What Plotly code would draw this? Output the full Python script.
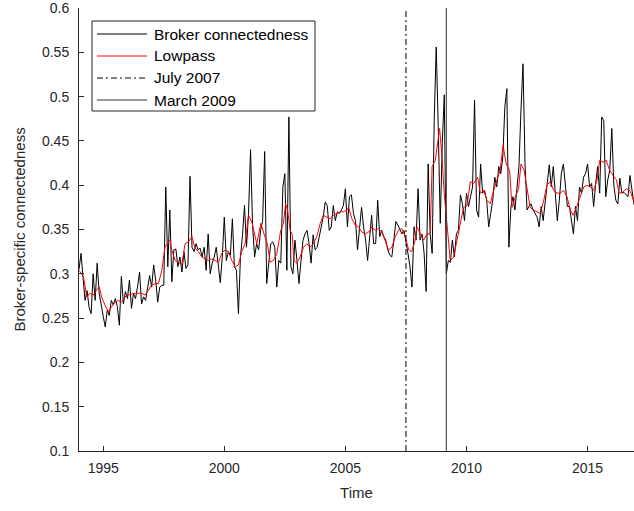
import numpy as np
import plotly.graph_objects as go

# Monthly broker-specific connectedness, Jan 1994 - Dec 2016 (one row per year)
broker = [
    0.305, 0.323, 0.296, 0.270, 0.281, 0.262, 0.255, 0.300, 0.270, 0.312, 0.278, 0.263,  # 1994
    0.252, 0.240, 0.259, 0.253, 0.270, 0.265, 0.272, 0.263, 0.242, 0.297, 0.266, 0.280,  # 1995
    0.272, 0.293, 0.261, 0.278, 0.272, 0.285, 0.302, 0.266, 0.274, 0.270, 0.284, 0.298,  # 1996
    0.285, 0.310, 0.293, 0.268, 0.285, 0.287, 0.287, 0.398, 0.308, 0.372, 0.291, 0.327,  # 1997
    0.328, 0.308, 0.319, 0.302, 0.325, 0.306, 0.310, 0.410, 0.330, 0.325, 0.334, 0.327,  # 1998
    0.329, 0.319, 0.330, 0.304, 0.345, 0.300, 0.312, 0.319, 0.330, 0.313, 0.290, 0.319,  # 1999
    0.364, 0.315, 0.325, 0.321, 0.362, 0.308, 0.304, 0.255, 0.319, 0.343, 0.377, 0.330,  # 2000
    0.368, 0.440, 0.355, 0.319, 0.334, 0.327, 0.349, 0.360, 0.438, 0.289, 0.315, 0.334,  # 2001
    0.336, 0.330, 0.285, 0.315, 0.312, 0.398, 0.413, 0.304, 0.477, 0.308, 0.300, 0.338,  # 2002
    0.315, 0.289, 0.315, 0.338, 0.345, 0.349, 0.334, 0.312, 0.344, 0.327, 0.330, 0.342,  # 2003
    0.353, 0.364, 0.381, 0.377, 0.349, 0.353, 0.377, 0.360, 0.370, 0.368, 0.372, 0.377,  # 2004
    0.396, 0.353, 0.387, 0.389, 0.368, 0.360, 0.327, 0.353, 0.375, 0.353, 0.338, 0.315,  # 2005
    0.338, 0.366, 0.334, 0.334, 0.383, 0.342, 0.349, 0.342, 0.338, 0.327, 0.321, 0.319,  # 2006
    0.338, 0.359, 0.355, 0.349, 0.345, 0.349, 0.338, 0.323, 0.308, 0.285, 0.353, 0.338,  # 2007
    0.396, 0.338, 0.345, 0.323, 0.280, 0.424, 0.345, 0.323, 0.473, 0.556, 0.466, 0.357,  # 2008
    0.447, 0.502, 0.300, 0.315, 0.313, 0.338, 0.319, 0.345, 0.349, 0.389, 0.379, 0.360,  # 2009
    0.391, 0.376, 0.387, 0.398, 0.496, 0.372, 0.364, 0.424, 0.391, 0.394, 0.383, 0.353,  # 2010
    0.368, 0.383, 0.409, 0.398, 0.421, 0.413, 0.432, 0.488, 0.509, 0.330, 0.375, 0.387,  # 2011
    0.372, 0.394, 0.421, 0.485, 0.537, 0.424, 0.372, 0.376, 0.379, 0.372, 0.368, 0.364,  # 2012
    0.353, 0.376, 0.360, 0.383, 0.398, 0.423, 0.398, 0.421, 0.391, 0.360, 0.383, 0.413,  # 2013
    0.424, 0.398, 0.376, 0.376, 0.360, 0.345, 0.376, 0.360, 0.398, 0.391, 0.409, 0.413,  # 2014
    0.424, 0.398, 0.402, 0.376, 0.402, 0.421, 0.391, 0.477, 0.473, 0.387, 0.406, 0.417,  # 2015
    0.464, 0.400, 0.383, 0.379, 0.408, 0.391, 0.392, 0.389, 0.387, 0.411, 0.394, 0.378,  # 2016
]
start_year = 1994
months = np.arange(len(broker))
broker_t = start_year + months / 12.0

# Low-pass filtered series (decimal year, value)
lowpass_t = [
    1994.00, 1994.18, 1994.32, 1994.45, 1994.59, 1994.73, 1994.84, 1994.93,
    1995.07, 1995.21, 1995.35, 1995.49, 1995.63, 1995.76, 1995.90,
    1996.04, 1996.18, 1996.32, 1996.45, 1996.59, 1996.73, 1996.87,
    1997.00, 1997.14, 1997.28, 1997.42, 1997.55, 1997.69, 1997.76, 1997.83, 1997.97,
    1998.11, 1998.24, 1998.38, 1998.52, 1998.66, 1998.79, 1998.93,
    1999.07, 1999.21, 1999.34, 1999.48, 1999.62, 1999.76, 1999.89,
    2000.03, 2000.17, 2000.31, 2000.45, 2000.58, 2000.72, 2000.86,
    2001.00, 2001.14, 2001.34, 2001.51, 2001.64, 2001.78, 2001.89,
    2002.03, 2002.17, 2002.33, 2002.44, 2002.53, 2002.61, 2002.72, 2002.80, 2002.88, 2002.99,
    2003.13, 2003.27, 2003.41, 2003.54, 2003.68, 2003.82, 2003.96,
    2004.09, 2004.23, 2004.37, 2004.51, 2004.65, 2004.78, 2004.92,
    2005.06, 2005.13, 2005.27, 2005.40, 2005.54, 2005.68, 2005.82, 2005.96,
    2006.09, 2006.23, 2006.37, 2006.51, 2006.64, 2006.78, 2006.92,
    2007.06, 2007.19, 2007.33, 2007.47, 2007.61, 2007.74, 2007.88, 2007.95,
    2008.09, 2008.23, 2008.37, 2008.50, 2008.58, 2008.71, 2008.89, 2008.99,
    2009.08, 2009.19, 2009.33, 2009.47, 2009.61, 2009.74, 2009.88,
    2010.02, 2010.16, 2010.29, 2010.46, 2010.57, 2010.71, 2010.84, 2010.98,
    2011.12, 2011.26, 2011.39, 2011.51, 2011.64, 2011.78, 2011.88,
    2012.02, 2012.15, 2012.25, 2012.38, 2012.49, 2012.63, 2012.77, 2012.91,
    2013.05, 2013.19, 2013.32, 2013.46, 2013.60, 2013.74, 2013.87,
    2014.01, 2014.15, 2014.29, 2014.40, 2014.54, 2014.70, 2014.84, 2014.98,
    2015.11, 2015.25, 2015.39, 2015.50, 2015.64, 2015.77, 2015.91,
    2016.05, 2016.19, 2016.30, 2016.45, 2016.60, 2016.75, 2016.92,
]
lowpass_v = [
    0.304, 0.297, 0.274, 0.278, 0.276, 0.282, 0.285, 0.274,
    0.265, 0.257, 0.263, 0.268, 0.270, 0.268, 0.274,
    0.276, 0.277, 0.278, 0.278, 0.278, 0.276, 0.282,
    0.287, 0.289, 0.289, 0.304, 0.330, 0.336, 0.338, 0.327, 0.315,
    0.313, 0.310, 0.334, 0.336, 0.342, 0.329, 0.325,
    0.319, 0.317, 0.315, 0.317, 0.315, 0.313, 0.323,
    0.327, 0.325, 0.315, 0.308, 0.310, 0.325, 0.334,
    0.366, 0.358, 0.334, 0.357, 0.345, 0.334, 0.313,
    0.315, 0.323, 0.349, 0.357, 0.379, 0.372, 0.349, 0.345, 0.315, 0.312,
    0.319, 0.330, 0.334, 0.330, 0.334, 0.342, 0.357,
    0.366, 0.364, 0.362, 0.366, 0.368, 0.370, 0.370,
    0.372, 0.375, 0.362, 0.355, 0.353, 0.347, 0.345, 0.347,
    0.353, 0.349, 0.351, 0.347, 0.338, 0.327, 0.330,
    0.342, 0.349, 0.351, 0.342, 0.327, 0.325, 0.338, 0.353,
    0.345, 0.338, 0.345, 0.345, 0.421, 0.428, 0.464, 0.432,
    0.391, 0.357, 0.315, 0.319, 0.338, 0.357, 0.375,
    0.377, 0.404, 0.402, 0.409, 0.391, 0.394, 0.383, 0.379,
    0.394, 0.407, 0.417, 0.445, 0.424, 0.417, 0.375,
    0.387, 0.396, 0.424, 0.417, 0.398, 0.375, 0.372, 0.370,
    0.368, 0.383, 0.400, 0.404, 0.394, 0.391, 0.391,
    0.394, 0.387, 0.372, 0.366, 0.375, 0.387, 0.398, 0.400,
    0.398, 0.394, 0.406, 0.428, 0.426, 0.428, 0.417,
    0.411, 0.406, 0.391, 0.392, 0.396, 0.394, 0.381,
]

# Event markers
event_names = ["July 2007", "March 2009"]
event_t = [2007.5, 2009 + 2 / 12]

y_range = [0.1, 0.6]
y_ticks = [0.1, 0.15, 0.2, 0.25, 0.3, 0.35, 0.4, 0.45, 0.5, 0.55, 0.6]
x_ticks = [1995, 2000, 2005, 2010, 2015]

# Line styles shared by the traces and the legend key
series_names = ["Broker connectedness", "Lowpass"] + event_names
series_styles = [
    dict(color="#000000", width=1),
    dict(color="#ff0000", width=1),
    dict(color="#000000", width=1, dash="6px,3px,2px,3px"),
    dict(color="#333333", width=1),
]

fig = go.Figure()
fig.add_trace(go.Scatter(x=broker_t, y=broker, mode="lines", name=series_names[0],
                         line=series_styles[0]))
fig.add_trace(go.Scatter(x=lowpass_t, y=lowpass_v, mode="lines", name=series_names[1],
                         line=series_styles[1]))
for k, t in enumerate(event_t):
    fig.add_trace(go.Scatter(x=[t, t], y=y_range, mode="lines", name=series_names[2 + k],
                             line=series_styles[2 + k]))

axis_col = "#262626"
font_family = "Liberation Sans, Arial, sans-serif"

# Plot area in pixels (figure 634x511, margins l=79, r=0, t=8, b=60)
PL, PT, PW, PH = 79, 8, 555, 443


def px_x(x):
    return (x - PL) / PW


def px_y(y):
    return 1 - (y - PT) / PH


# Boxed legend in the upper-left corner, MATLAB style
shapes = [dict(type="rect", xref="paper", yref="paper",
               x0=px_x(92), x1=px_x(315), y0=px_y(111), y1=px_y(21),
               line=dict(color=axis_col, width=1), fillcolor="white", layer="above")]
annotations = []
row_y = [34, 56, 78, 100]
for name, style, ry in zip(series_names, series_styles, row_y):
    shapes.append(dict(type="line", xref="paper", yref="paper",
                       x0=px_x(97), x1=px_x(147), y0=px_y(ry), y1=px_y(ry),
                       line=style, layer="above"))
    annotations.append(dict(text=name, xref="paper", yref="paper",
                            x=px_x(152), y=px_y(ry), xanchor="left", yanchor="middle",
                            showarrow=False, font=dict(size=15.5, color="#000000")))

fig.update_layout(
    width=634, height=511,
    margin=dict(l=PL, r=0, t=PT, b=60),
    paper_bgcolor="white", plot_bgcolor="white",
    font=dict(family=font_family, size=14, color=axis_col),
    showlegend=False,
    shapes=shapes,
    annotations=annotations,
)
fig.update_xaxes(range=[start_year, broker_t[-1]], tickvals=x_ticks,
                 ticks="inside", ticklen=5, tickcolor=axis_col,
                 ticklabelstandoff=4,
                 showline=True, linecolor=axis_col, linewidth=1, mirror=False,
                 showgrid=False, zeroline=False,
                 title=dict(text="Time", font=dict(size=15), standoff=12))
fig.update_yaxes(range=y_range, tickvals=y_ticks,
                 ticktext=[f"{v:g}" for v in y_ticks],
                 ticks="inside", ticklen=5, tickcolor=axis_col,
                 ticklabelstandoff=6, ticklabeloverflow="allow",
                 showline=True, linecolor=axis_col, linewidth=1, mirror=False,
                 showgrid=False, zeroline=False,
                 title=dict(text="Broker-specific connectedness", font=dict(size=15), standoff=12))

fig.write_html("out.html")
